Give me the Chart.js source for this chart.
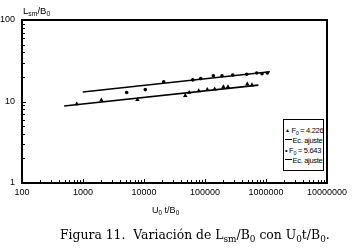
<!DOCTYPE html>
<html>
<head>
<meta charset="utf-8">
<script src="https://cdn.jsdelivr.net/npm/chart.js@4.4.0/dist/chart.umd.min.js"></script>
<style>
body{margin:0;background:#fff;}
#wrap{position:relative;width:360px;height:250px;font-family:"Liberation Sans",Arial,sans-serif;color:#000;}
#chart{position:absolute;left:0;top:0;}
sub{font-size:0.72em;line-height:0;vertical-align:-0.3em;}
.ytitle{position:absolute;left:23px;top:5px;font-size:9.5px;}
.xtitle{position:absolute;left:152px;top:205px;font-size:9px;}
#legend{position:absolute;left:283px;top:119px;width:41px;height:52px;border:1px solid #000;font-size:7.5px;line-height:10px;padding-top:5px;box-sizing:border-box;background:#fff;letter-spacing:-0.3px;overflow:hidden;}
#legend div{white-space:nowrap;padding-left:1px;}
#legend .m{font-size:5px;vertical-align:1px;}
#legend .l{display:inline-block;width:7px;border-top:1px solid #000;vertical-align:3px;margin-right:0.5px;}
.caption{position:absolute;left:60px;top:227px;font-family:"DejaVu Serif",serif;font-size:12.4px;white-space:nowrap;}
</style>
</head>
<body>
<div id="wrap">
  <canvas id="chart" width="360" height="250"></canvas>
  <div class="ytitle">L<sub>sm</sub>/B<sub>0</sub></div>
  <div class="xtitle">U<sub>0</sub> t/B<sub>0</sub></div>
  <div id="legend"></div>
  <div class="caption">Figura 11.&nbsp; Variación de L<sub>sm</sub>/B<sub>0</sub> con U<sub>0</sub>t/B<sub>0</sub>.</div>
</div>
<script>
// tick labels
const xTicks = [100, 1000, 10000, 100000, 1000000, 10000000]
const yTicks = [1, 10, 100]

// F0 = 4.226 (triangles)
const triX = [790, 2000, 7800, 47500, 55000, 79000, 109000, 144000, 200000, 238000, 493000, 589000]
const triY = [9.3, 10.4, 10.5, 11.8, 12.9, 13.5, 14.0, 14.2, 15.1, 15.1, 16.3, 16.0]
// fitted line, endpoints
const fit1X = [490, 750000]
const fit1Y = [8.8, 15.9]

// F0 = 5.643 (dots)
const dotX = [5200, 10500, 21000, 63000, 85000, 137000, 190000, 285000, 483000, 705000, 860000, 1050000]
const dotY = [12.9, 14.0, 17.5, 18.4, 19.1, 20.7, 20.7, 21.1, 21.6, 22.4, 21.9, 22.4]
const fit2X = [990, 1160000]
const fit2Y = [13.1, 23.2]

const legendItems = [
    {mark: '<span class="m">&#9650;</span> ', text: 'F<sub>0</sub> = 4.226'},
    {mark: '<span class="l"></span>', text: 'Ec. ajuste'},
    {mark: '&bull; ', text: 'F<sub>0</sub> = 5.643'},
    {mark: '<span class="l"></span>', text: 'Ec. ajuste'}
]

function toPoints(xs, ys){
    return xs.map((x, i) => ({x: x, y: ys[i]}))
}

const tickFont = {family: '"Liberation Sans", Arial, sans-serif', size: 9}

// axis frame and inward tick marks
const framePlugin = {
    id: 'frame',
    afterDraw(chart){
        const ctx = chart.ctx
        const a = chart.chartArea
        const xs = chart.scales.x
        const ys = chart.scales.y
        ctx.save()
        ctx.strokeStyle = '#000'
        ctx.lineWidth = 1
        ctx.beginPath()
        for (let d = 100; d < 10000000; d *= 10){
            for (let k = 1; k < 10; k++){
                const px = Math.round(xs.getPixelForValue(d * k)) + 0.5
                const len = k === 1 ? 4 : 3
                ctx.moveTo(px, a.bottom)
                ctx.lineTo(px, a.bottom - len)
            }
        }
        for (let d = 1; d < 100; d *= 10){
            for (let k = 1; k < 10; k++){
                const py = Math.round(ys.getPixelForValue(d * k)) + 0.5
                const len = k === 1 ? 4 : 3
                ctx.moveTo(a.left, py)
                ctx.lineTo(a.left + len, py)
            }
        }
        ctx.stroke()
        ctx.lineWidth = 2
        ctx.strokeRect(a.left, a.top, a.right - a.left, a.bottom - a.top)
        ctx.restore()
    }
}

let myChart = new Chart(document.getElementById('chart').getContext('2d'), {
    type: 'scatter',
    data: {
        datasets: [
            {
                label: 'F0 = 4.226',
                data: toPoints(triX, triY),
                pointStyle: 'triangle',
                pointRadius: 2.6,
                backgroundColor: '#000',
                borderColor: '#000',
                borderWidth: 0
            },
            {
                label: 'Ec. ajuste',
                data: toPoints(fit1X, fit1Y),
                showLine: true,
                pointRadius: 0,
                borderColor: '#000',
                borderWidth: 1.6
            },
            {
                label: 'F0 = 5.643',
                data: toPoints(dotX, dotY),
                pointStyle: 'circle',
                pointRadius: 1.8,
                backgroundColor: '#000',
                borderColor: '#000',
                borderWidth: 0
            },
            {
                label: 'Ec. ajuste',
                data: toPoints(fit2X, fit2Y),
                showLine: true,
                pointRadius: 0,
                borderColor: '#000',
                borderWidth: 1.6
            }
        ]
    },
    options: {
        responsive: false,
        animation: false,
        layout: {padding: {top: 20, right: 33, bottom: 50, left: 0}},
        plugins: {legend: {display: false}, tooltip: {enabled: false}},
        scales: {
            x: {
                type: 'logarithmic',
                min: 100,
                max: 10000000,
                grid: {display: false, drawTicks: false},
                border: {display: false},
                afterBuildTicks: s => { s.ticks = xTicks.map(v => ({value: v})) },
                afterFit: s => { s.height = 17 },
                ticks: {
                    font: tickFont,
                    color: '#000',
                    padding: 4,
                    maxRotation: 0,
                    autoSkip: false,
                    callback: v => String(v)
                }
            },
            y: {
                type: 'logarithmic',
                min: 1,
                max: 100,
                grid: {display: false, drawTicks: false},
                border: {display: false},
                afterBuildTicks: s => { s.ticks = yTicks.map(v => ({value: v})) },
                afterFit: s => { s.width = 22 },
                ticks: {
                    font: tickFont,
                    color: '#000',
                    padding: 7,
                    autoSkip: false,
                    callback: v => String(v)
                }
            }
        }
    },
    plugins: [framePlugin]
})

document.getElementById('legend').innerHTML = legendItems
    .map(it => `<div>${it.mark}${it.text}</div>`).join('')
</script>
</body>
</html>
